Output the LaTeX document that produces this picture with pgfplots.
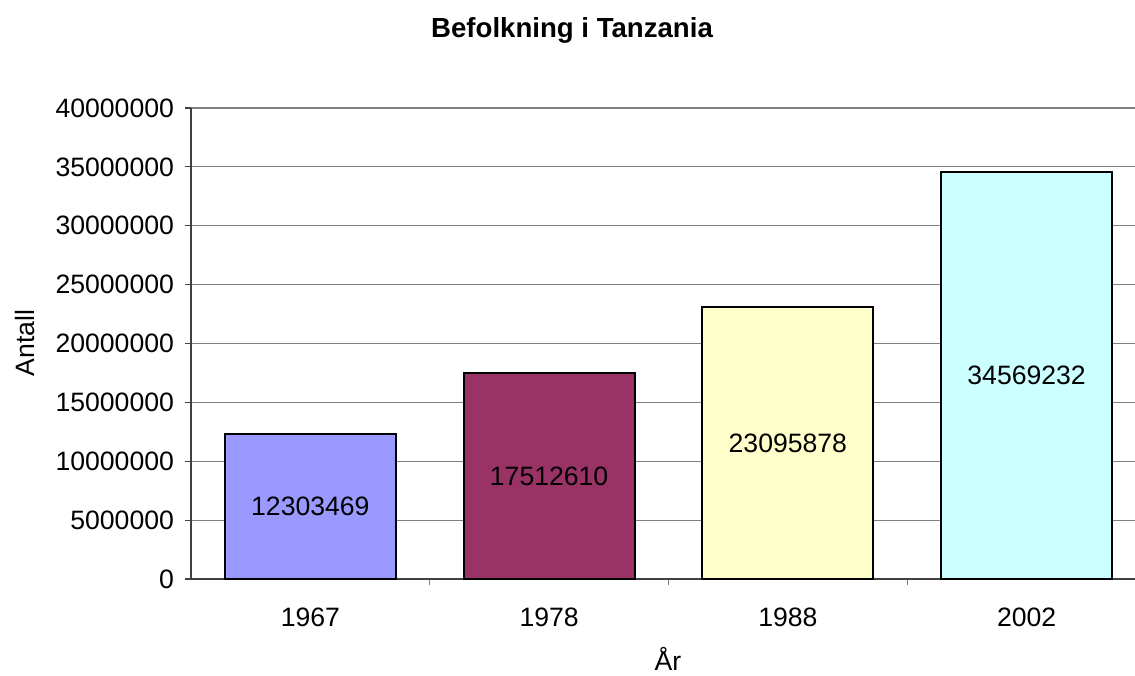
\documentclass[border=0pt]{standalone}
\usepackage{pgfplots}
\pgfplotsset{compat=1.18}
\usepackage{fontspec}
\setmainfont{Liberation Sans}
\definecolor{c1}{HTML}{9999FF}
\definecolor{c2}{HTML}{993366}
\definecolor{c3}{HTML}{FFFFCC}
\definecolor{c4}{HTML}{CCFFFF}
\definecolor{gridgray}{HTML}{808080}
\definecolor{axgray}{HTML}{404040}
\begin{document}
\begin{tikzpicture}[x=1pt,y=1pt,font=\fontsize{13.3}{16}\selectfont]
\useasboundingbox (0,0) rectangle (567.5,337.5);
\begin{axis}[
  at={(95.5pt,48pt)}, anchor=south west,
  scale only axis,
  width=477.5pt, height=235.5pt,
  xmin=-0.5, xmax=3.5,
  ymin=0, ymax=40000000,
  ytick={0,5000000,10000000,15000000,20000000,25000000,30000000,35000000,40000000},
  scaled y ticks=false,
  /pgf/number format/fixed,
  /pgf/number format/1000 sep={},
  /pgf/number format/assume math mode=true,
  xtick={0,1,2,3},
  xticklabels={1967,1978,1988,2002},
  major x tick style={draw=none},
  minor xtick={0.5,1.5,2.5},
  minor x tick style={draw=gridgray, line width=0.6pt},
  tick align=outside,
  major tick length=3pt,
  minor tick length=3pt,
  y tick style={draw=axgray, line width=0.6pt},
  axis x line*=bottom,
  axis y line*=left,
  axis line style={-, draw=axgray, line width=0.7pt},
  ymajorgrids,
  grid style={draw=gridgray, line width=0.6pt},
  ybar, bar width=85.5pt, bar shift=0pt,
  every axis plot/.append style={draw=black, line width=1pt},
  yticklabel style={font=\fontsize{13.3}{16}\selectfont, xshift=-2pt},
  xticklabel style={font=\fontsize{13.3}{16}\selectfont, yshift=-8pt},
  clip=false,
]
\addplot[fill=c1] coordinates {(0,12303469)};
\addplot[fill=c2] coordinates {(1,17512610)};
\addplot[fill=c3] coordinates {(2,23095878)};
\addplot[fill=c4] coordinates {(3,34569232)};
\addplot[draw=none, fill=none,
  point meta=explicit symbolic,
  nodes near coords,
  every node near coord/.append style={anchor=center, font=\fontsize{13.3}{16}\selectfont, text=black},
] coordinates {
  (0,6151734.5) [12303469]
  (1,8756305) [17512610]
  (2,11547939) [23095878]
  (3,17284616) [34569232]
};
\end{axis}
\node[font=\bfseries\fontsize{13.8}{16}\selectfont] at (286,322.5) {Befolkning i Tanzania};
\node[rotate=90] at (12.5,166) {Antall};
\node at (334,8) {År};
\end{tikzpicture}
\end{document}
